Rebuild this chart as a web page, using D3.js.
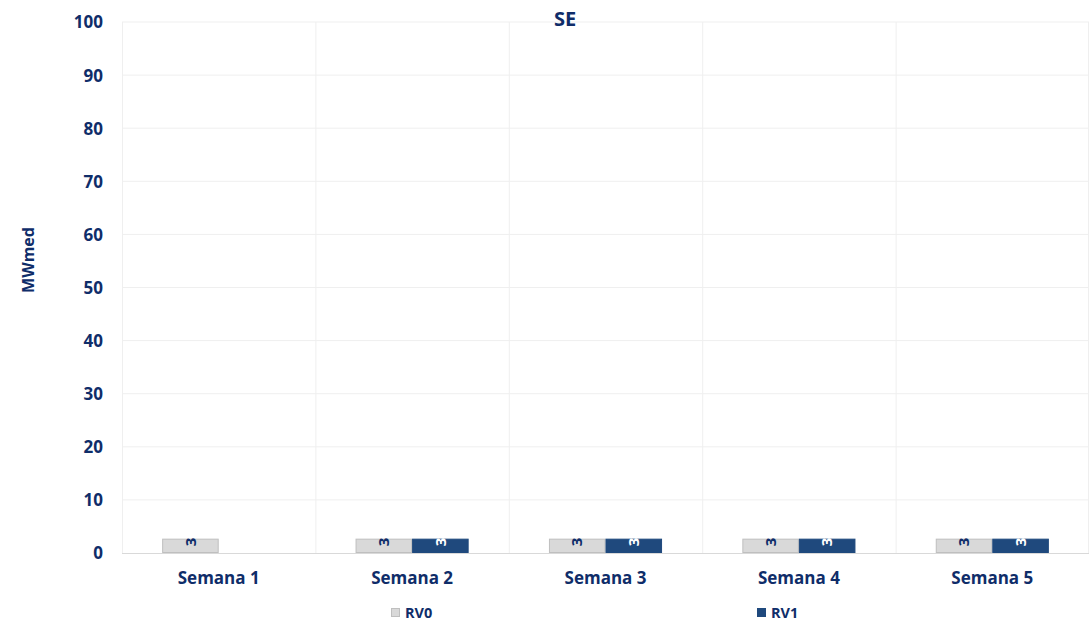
<!DOCTYPE html>
<html><head><meta charset="utf-8">
<script src="https://cdn.jsdelivr.net/npm/d3@7"></script>
<style>body{margin:0;background:#fff}text{font-family:"Open Sans",sans-serif;font-weight:bold;fill:#0f2d69}</style>
</head><body><svg id="c" width="1089" height="623"></svg>
<script>
const categories = ["Semana 1","Semana 2","Semana 3","Semana 4","Semana 5"];
const seriesNames = ["RV0","RV1"];
const rv0 = [2.7, 2.7, 2.7, 2.7, 2.7];
const rv1 = [null, 2.7, 2.7, 2.7, 2.7];
const yTicks = [0,10,20,30,40,50,60,70,80,90,100];
const colors = ["#d9d9d9","#1f497d"];
const strokes = ["#bfbfbf","#1f497d"];

const svg = d3.select("#c");
const m = {l:122, r:1089, t:22, b:553};
const x = d3.scaleBand().domain(categories).range([m.l, m.r]);
const y = d3.scaleLinear().domain([0,100]).range([m.b, m.t]);
const xs = d3.scaleBand().domain(seriesNames).range([0, x.bandwidth()]).paddingInner(0).paddingOuter(0.71);

// grid
svg.append("g").selectAll("line").data(yTicks.filter(d=>d>0)).join("line")
  .attr("x1", m.l).attr("x2", m.r).attr("y1", d=>y(d)).attr("y2", d=>y(d))
  .attr("stroke", "#efefef").attr("stroke-width", 1);
svg.append("g").selectAll("line").data(categories).join("line")
  .attr("x1", d=>x(d)+0.5).attr("x2", d=>x(d)+0.5).attr("y1", m.t).attr("y2", m.b)
  .attr("stroke", "#efefef");
svg.append("line").attr("x1", m.r-0.5).attr("x2", m.r-0.5).attr("y1", m.t).attr("y2", m.b).attr("stroke","#efefef");

// y axis labels
const yAxis = d3.axisLeft(y).tickValues(yTicks).tickSize(0).tickPadding(0);
const ga = svg.append("g").attr("transform", `translate(103,0)`).call(yAxis);
ga.select(".domain").remove();
ga.selectAll("text").style("font-size","17px").attr("dy","0.35em");

// x axis labels
const xAxis = d3.axisBottom(x).tickSize(0).tickPadding(0);
const gx = svg.append("g").attr("transform", `translate(0,572)`).call(xAxis);
gx.select(".domain").remove();
gx.selectAll("text").style("font-size","17px").attr("dy","0.71em");

// bars
const data = [rv0, rv1];
data.forEach((vals, si) => {
  const g = svg.append("g");
  const d = categories.map((c,i)=>({c, v: vals[i]})).filter(e=>e.v!=null);
  g.selectAll("rect").data(d).join("rect")
    .attr("x", e=>x(e.c)+xs(seriesNames[si])+0.5)
    .attr("width", xs.bandwidth()-1)
    .attr("y", e=>y(e.v)+0.5)
    .attr("height", e=>y(0)-y(e.v)-1)
    .attr("fill", colors[si]).attr("stroke", strokes[si]);
  g.selectAll("text").data(d).join("text")
    .attr("transform", e=>`translate(${x(e.c)+xs(seriesNames[si])+xs.bandwidth()/2},${y(e.v)-1}) rotate(-90)`)
    .attr("text-anchor","end").attr("dy","0.35em")
    .style("font-size","15px")
    .style("fill", si===1 ? "#ffffff" : "#0f2d69")
    .text(e=>d3.format(".0f")(e.v));
});

// baseline
svg.append("line").attr("x1", m.l).attr("x2", m.r).attr("y1", m.b+0.5).attr("y2", m.b+0.5).attr("stroke","#d9d9d9");

// title
svg.append("text").attr("x", 565).attr("y", 26).attr("text-anchor","middle").style("font-size","20px").text("SE");
// y title
svg.append("text").attr("transform","translate(34,260) rotate(-90)").attr("text-anchor","middle").style("font-size","16px").text("MWmed");

// legend
const leg = [{n:"RV0",x:391},{n:"RV1",x:757}];
leg.forEach((l,i)=>{
  svg.append("rect").attr("x", l.x+0.5).attr("y", 608.5).attr("width", 8).attr("height", 8)
    .attr("fill", colors[i]).attr("stroke", strokes[i]);
  svg.append("text").attr("x", l.x+14).attr("y", 618).style("font-size","14.5px").text(seriesNames[i]);
});
</script></body></html>
